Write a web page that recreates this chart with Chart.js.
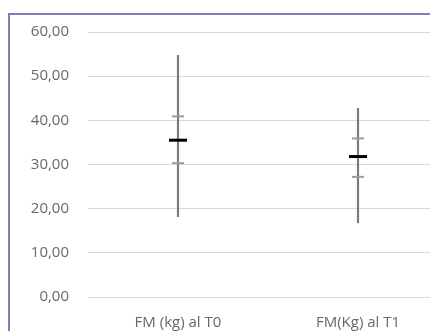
<!DOCTYPE html>
<html>
<head>
<meta charset="utf-8">
<script src="https://cdn.jsdelivr.net/npm/chart.js@4.4.1/dist/chart.umd.min.js"></script>
<style>
  html, body { margin:0; padding:0; background:#fff; width:430px; height:331px; overflow:hidden; }
  #wrap { position:relative; width:430px; height:331px; overflow:hidden; }
  #frame { position:absolute; left:8px; top:13px; width:600px; height:600px; border:2px solid #7b7fba; box-sizing:border-box; }
  canvas { position:absolute; left:0; top:0; }
</style>
</head>
<body>
<div id="wrap">
  <div id="frame"></div>
  <canvas id="c" width="460" height="331"></canvas>
</div>
<script>
const categories = ['FM (kg) al T0', 'FM(Kg) al T1'];
const minVals  = [18.2, 16.8];
const maxVals  = [54.7, 42.7];
const q1Vals   = [30.3, 27.2];
const q3Vals   = [40.9, 35.9];
const meanVals = [35.5, 31.8];
const yTickMin = 0, yTickMax = 60, yTickStep = 10;

const FONT = "'Open Sans', sans-serif";
const TEXT = '#686868';

new Chart(document.getElementById('c'), {
  data: {
    labels: categories,
    datasets: [
      { type:'bar', data: categories.map((c,i)=>[minVals[i], maxVals[i]]),
        backgroundColor:'#7a7a7a', borderWidth:0, barThickness:1.5, order:3 },
      { type:'line', data: q3Vals, showLine:false, pointStyle:'line', pointRadius:6,
        pointBorderWidth:2, pointBorderColor:'#9d9d9d', order:2 },
      { type:'line', data: q1Vals, showLine:false, pointStyle:'line', pointRadius:6,
        pointBorderWidth:2, pointBorderColor:'#9d9d9d', order:2 },
      { type:'line', data: meanVals, showLine:false, pointStyle:'line', pointRadius:9,
        pointBorderWidth:3, pointBorderColor:'#000000', order:1 }
    ]
  },
  options: {
    responsive:false, animation:false,
    layout:{ padding:{ top:32, left:0, right:0, bottom:0 } },
    plugins:{ legend:{display:false}, tooltip:{enabled:false} },
    scales:{
      x:{ type:'category', offset:true,
          grid:{display:false}, border:{display:false},
          ticks:{ color:TEXT, font:{family:FONT, size:15}, padding:9, maxRotation:0 },
          afterFit: s => { s.height = 34; } },
      y:{ min:yTickMin, max:yTickMax,
          grid:{ color:'#dcd7d3', lineWidth:1, drawTicks:false },
          border:{display:false},
          ticks:{ stepSize:yTickStep, color:TEXT, font:{family:FONT, size:15}, padding:19,
                  callback: v => v.toFixed(2).replace('.', ',') },
          afterFit: s => { s.width = 88; } }
    }
  }
});
</script>
</body>
</html>
